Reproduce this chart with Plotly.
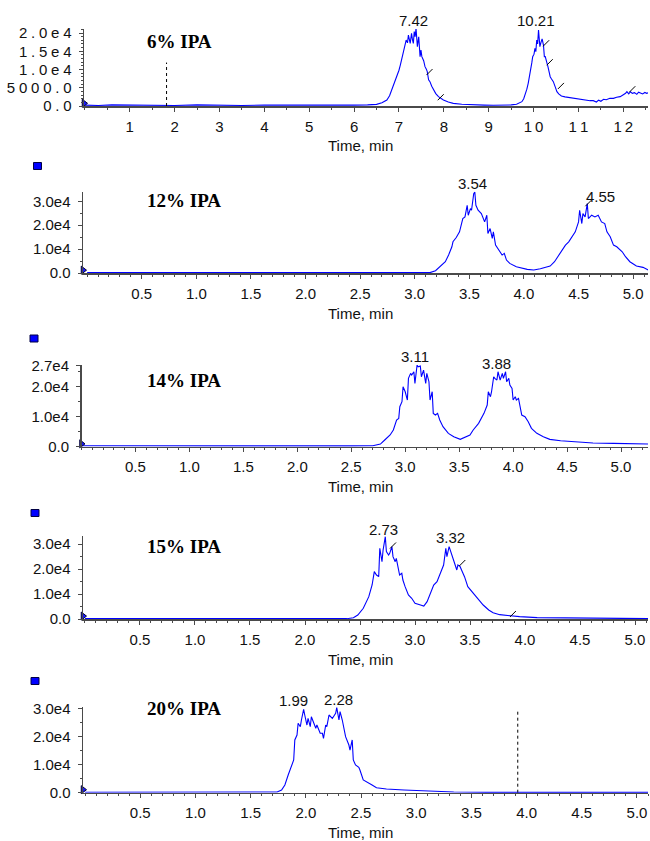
import plotly.graph_objects as go

# ---------------- data ----------------
labels = ["6% IPA", "12% IPA", "14% IPA", "15% IPA", "20% IPA"]

t6 = [0, 0.3, 0.6, 1.0, 1.5, 2.0, 2.5, 3.0, 3.5, 4.0, 4.5, 5.0, 5.5, 6.0, 6.3,
      6.50, 6.62, 6.73, 6.79, 6.84, 6.90, 6.95, 7.00, 7.03, 7.06, 7.10, 7.13, 7.16, 7.19,
      7.21, 7.25, 7.28, 7.30, 7.32, 7.34, 7.36, 7.38, 7.41, 7.44, 7.47, 7.49, 7.51, 7.55,
      7.58, 7.61, 7.63, 7.66, 7.69, 7.73, 7.77, 7.82, 7.88, 7.94, 7.99, 8.10, 8.21, 8.40,
      8.58, 8.90, 9.10, 9.33, 9.50, 9.62, 9.70, 9.74, 9.78, 9.81, 9.85, 9.88, 9.91, 9.94,
      9.96, 9.98, 10.01, 10.03, 10.05, 10.07, 10.09, 10.11, 10.14, 10.17, 10.19, 10.22,
      10.24, 10.26, 10.28, 10.30, 10.32, 10.34, 10.37, 10.40, 10.44, 10.48, 10.52, 10.56,
      10.62, 10.70, 10.80, 10.89, 11.00, 11.10, 11.19, 11.26, 11.33, 11.40, 11.45, 11.50,
      11.56, 11.62, 11.70, 11.78, 11.85, 11.93, 12.00, 12.05, 12.08, 12.12, 12.16, 12.20,
      12.25, 12.30, 12.34, 12.38, 12.43, 12.48, 12.52, 12.55]
v6 = [250, 150, 300, 200, 250, 150, 300, 200, 150, 250, 200, 300, 150, 250, 300,
      450, 900, 1640, 2800, 4380, 6200, 8030, 9800, 11230, 13000, 15340, 16500, 18080, 17300,
      19450, 17170, 19910, 18200, 17170, 20370, 18990, 21280, 16260, 18990, 13520, 15300, 13520, 12400,
      10780, 10100, 9410, 7200, 6670, 5400, 4380, 3400, 2560, 2000, 1640, 1100, 730, 500,
      350, 250, 200, 150, 300, 500, 900, 1190, 2000, 3010, 4600, 6210, 8000, 9860,
      11800, 13520, 14200, 15800, 14900, 18080, 17000, 20820, 16260, 17630, 18400, 16710,
      13520, 13520, 12200, 11690, 10800, 9410, 8030, 7400, 6670, 5300, 3930, 3300,
      2740, 2500, 2300, 2100, 1900, 1700, 1640, 1460, 1460, 1100, 1600, 1300,
      1830, 1700, 2100, 2100, 2400, 2560, 3100, 3470, 3930, 3300, 3900, 3470,
      3650, 3200, 3800, 3650, 3300, 3700, 3470, 3600]

t12 = [0, 0.5, 1.0, 1.5, 2.0, 2.5, 3.0,
       3.14, 3.19, 3.23, 3.28, 3.31, 3.34, 3.35, 3.38, 3.41, 3.44, 3.46, 3.48, 3.49, 3.51,
       3.52, 3.54, 3.55, 3.56, 3.58, 3.61, 3.64, 3.66, 3.67, 3.69, 3.71, 3.72, 3.74, 3.77,
       3.80, 3.82, 3.84, 3.87, 3.93, 4.03, 4.09, 4.15, 4.24, 4.28, 4.32, 4.35, 4.38, 4.41,
       4.44, 4.47, 4.50, 4.51, 4.53, 4.54, 4.56, 4.58, 4.59, 4.62, 4.65, 4.68, 4.71, 4.74,
       4.76, 4.79, 4.82, 4.85, 4.90, 4.93, 4.97, 5.03, 5.09, 5.14]
v12 = [150, 120, 180, 130, 160, 120, 150,
       150, 970, 2640, 4720, 7500, 10970, 13060, 14860, 17220, 22780, 23470, 28330, 24170, 26940,
       26250, 33200, 33890, 28330, 26250, 24860, 21390, 24170, 16530, 18610, 14440, 17220, 11670, 9580,
       7500, 8190, 5420, 4030, 2640, 1530, 1250, 1810, 2920, 4720, 7500, 9580, 11670, 13060,
       15140, 17220, 21390, 26250, 20690, 24860, 23470, 29030, 22780, 24170, 23470, 24170, 21390, 20690,
       17220, 15140, 11670, 10970, 8890, 6810, 4720, 2920, 2360, 1250]

t14 = [0, 0.5, 1.0, 1.5, 2.0, 2.5, 2.7,
       2.77, 2.81, 2.86, 2.89, 2.92, 2.94, 2.95, 2.97, 2.98, 3.00, 3.02, 3.03, 3.05, 3.06,
       3.08, 3.09, 3.11, 3.12, 3.14, 3.15, 3.17, 3.19, 3.20, 3.22, 3.23, 3.25, 3.26, 3.28,
       3.30, 3.32, 3.35, 3.40, 3.45, 3.51, 3.56, 3.60, 3.63, 3.68, 3.73, 3.76, 3.77, 3.79,
       3.80, 3.82, 3.83, 3.85, 3.86, 3.88, 3.90, 3.91, 3.93, 3.94, 3.96, 3.97, 3.99, 4.00,
       4.02, 4.03, 4.05, 4.06, 4.08, 4.11, 4.14, 4.17, 4.22, 4.28, 4.34, 4.44, 4.59, 4.74,
       4.93, 5.10, 5.25]
v14 = [300, 250, 320, 280, 300, 280, 320,
       890, 2230, 3900, 5570, 8900, 9450, 13330, 15000, 20000, 18330, 15560, 22780, 24450, 23900,
       25000, 21110, 27230, 26670, 26890, 23340, 25560, 21110, 24450, 21670, 15560, 18330, 11120, 10560,
       11120, 8900, 6670, 4450, 3330, 2450, 3330, 3900, 5570, 7780, 11120, 13890, 18330, 16670,
       18330, 23340, 22780, 22230, 25000, 22230, 24450, 22780, 25000, 21670, 22780, 20560, 19450, 15560,
       16670, 15560, 16120, 13890, 10560, 10000, 8330, 6120, 4450, 3330, 2450, 2000, 1560, 1230,
       1120, 900, 890]

t15 = [0, 0.5, 1.0, 1.5, 2.0, 2.3,
       2.38, 2.44, 2.48, 2.53, 2.58, 2.61, 2.63, 2.65, 2.67, 2.68, 2.70, 2.71, 2.73, 2.74,
       2.76, 2.77, 2.79, 2.80, 2.82, 2.83, 2.85, 2.86, 2.88, 2.89, 2.91, 2.94, 2.97, 3.00,
       3.05, 3.08, 3.11, 3.14, 3.17, 3.20, 3.23, 3.26, 3.28, 3.29, 3.31, 3.33, 3.34, 3.36,
       3.38, 3.39, 3.41, 3.43, 3.45, 3.48, 3.53, 3.58, 3.62, 3.67, 3.71, 3.77, 3.86, 3.95,
       4.11, 4.41, 4.71, 5.12]
v15 = [150, 120, 180, 150, 120, 150,
       130, 530, 1600, 4270, 8930, 13600, 18930, 17600, 16930, 28270, 22930, 27600, 32930, 26930,
       25600, 26270, 28930, 24930, 22930, 24270, 19600, 17600, 18270, 15600, 12930, 9600, 8270, 6270,
       5600, 5200, 6930, 10270, 13600, 14930, 18270, 21600, 28270, 24930, 28930, 26270, 25600, 22930,
       19600, 21600, 20930, 18930, 16930, 12930, 10270, 7600, 5600, 3600, 2530, 1730, 1200, 930,
       530, 400, 270, 130]

t20 = [0, 0.5, 1.0, 1.5, 1.70,
       1.74, 1.78, 1.81, 1.84, 1.87, 1.89, 1.90, 1.92, 1.93, 1.95, 1.96, 1.98, 1.99, 2.01,
       2.02, 2.04, 2.05, 2.07, 2.09, 2.10, 2.12, 2.13, 2.15, 2.16, 2.18, 2.19, 2.21, 2.24,
       2.25, 2.27, 2.28, 2.30, 2.31, 2.33, 2.36, 2.39, 2.40, 2.42, 2.43, 2.45, 2.48, 2.49,
       2.52, 2.55, 2.60, 2.64, 2.73, 2.89, 3.10, 3.34, 3.64, 5.10]
v20 = [150, 120, 150, 130, 150,
       240, 960, 2740, 6300, 9250, 11640, 18760, 20540, 24700, 23490, 25870, 29680, 27650, 24090,
       26480, 23490, 27050, 25270, 22920, 24090, 22310, 21140, 21140, 19360, 24090, 23490, 27650, 26480,
       27050, 28240, 30270, 25870, 28830, 25870, 19950, 16970, 15190, 18760, 11640, 9860, 9030, 8080,
       4520, 3930, 2740, 1790, 1310, 960, 590, 240, 120, 120]

# peak-time labels (text, x, y)
peak_text = [["7.42", "10.21"], ["3.54", "4.55"], ["3.11", "3.88"], ["2.73", "3.32"], ["1.99", "2.28"]]
peak_x = [[7.32, 10.06], [3.53, 4.70], [3.09, 3.85], [2.71, 3.32], [1.89, 2.30]]
peak_y = [[23370, 23370], [37380, 32210], [30230, 27800], [35880, 32680], [32740, 33240]]

# small integration tick marks on the traces
mark_t = [[7.68, 7.93, 10.28, 10.36, 10.61, 12.20], [4.59], [], [2.80, 3.43, 3.89], []]
mark_v = [[9300, 2400, 17200, 12000, 5500, 4600], [29200], [], [29400, 22400, 2000], []]

# dotted vertical markers (x, height); None when absent
vline_t = [1.82, None, None, None, 3.92]
vline_v = [11900, None, None, None, 29700]

# axis ticks
x_ticks = [[1, 2, 3, 4, 5, 6, 7, 8, 9, 10, 11, 12]] + [[0.5, 1.0, 1.5, 2.0, 2.5, 3.0, 3.5, 4.0, 4.5, 5.0]] * 4
y_ticks = [[0, 5000, 10000, 15000, 20000], [0, 10000, 20000, 30000], [0, 10000, 20000, 27000],
           [0, 10000, 20000, 30000], [0, 10000, 20000, 30000]]
y_ticktext = [["0.0", "5000.0", "1.0e4", "1.5e4", "2.0e4"], ["0.0", "1.0e4", "2.0e4", "3.0e4"],
              ["0.0", "1.0e4", "2.0e4", "2.7e4"], ["0.0", "1.0e4", "2.0e4", "3.0e4"],
              ["0.0", "1.0e4", "2.0e4", "3.0e4"]]

series_t = [t6, t12, t14, t15, t20]
series_v = [v6, v12, v14, v15, v20]

# ---------------- layout geometry (pixels) ----------------
W, H = 650, 841
RIGHT = 648
# left px, axis(bottom) px, top px, x-range, y max
geom = [
    (84, 106.0, 29.0, (-0.02, 12.55), 21100),
    (83, 273.0, 191.5, (-0.038, 5.136), 34100),
    (81.5, 446.7, 365.0, (0.0, 5.25), 27250),
    (83, 619.0, 536.0, (-0.018, 5.118), 33200),
    (83, 792.7, 707.0, (-0.019, 5.10), 30500),
]
title_pos = [(179, 41.7), (184.3, 200.7), (184.3, 380.7), (184.3, 546.7), (184.3, 708.3)]
square_pos = [None, (33.5, 162.5), (30, 335), (31, 509.5), (31, 677.5)]

SANS = "Liberation Sans, Arial, sans-serif"
SERIF = "Liberation Serif, Times New Roman, serif"
AX = "#4a4a4a"
SP_Y = "\u2005"
SP_X = "\u2009"

fig = go.Figure()
annotations = []
shapes = []
layout = {}

for i in range(5):
    n = "" if i == 0 else str(i + 1)
    xa, ya = "x" + n, "y" + n
    left, bottom, top, xr, ymax = geom[i]
    wide = (i == 0)

    fig.add_trace(go.Scatter(x=series_t[i], y=series_v[i], xaxis=xa, yaxis=ya, mode="lines",
                             line=dict(color="#0000ff", width=1.1), showlegend=False,
                             hoverinfo="skip"))
    if mark_t[i]:
        fig.add_trace(go.Scatter(x=mark_t[i], y=mark_v[i], xaxis=xa, yaxis=ya, mode="markers",
                                 marker=dict(symbol="line-ne", size=6,
                                             line=dict(color="black", width=1)),
                                 showlegend=False, hoverinfo="skip"))
    if vline_t[i] is not None:
        fig.add_trace(go.Scatter(x=[vline_t[i], vline_t[i]], y=[0, vline_v[i]], xaxis=xa, yaxis=ya,
                                 mode="lines", line=dict(color="black", width=1, dash="dot"),
                                 showlegend=False, hoverinfo="skip"))
    # origin triangle
    fig.add_trace(go.Scatter(x=[xr[0]], y=[ymax * 0.035], xaxis=xa, yaxis=ya, mode="markers",
                             marker=dict(symbol="triangle-right", size=7, color="#1a1aff",
                                         line=dict(color="#000033", width=1)),
                             cliponaxis=False, showlegend=False, hoverinfo="skip"))

    tickfont = dict(family=SANS, size=15, color="#111111")
    xtext = [SP_X.join(str(v)) if wide else f"{v:.1f}" for v in x_ticks[i]]
    ytext = [SP_Y.join(s) if wide else s for s in y_ticktext[i]]

    layout["xaxis" + n] = dict(
        domain=[left / W, RIGHT / W], anchor=ya, range=list(xr), automargin=False,
        showline=True, linecolor=AX, linewidth=1.5, mirror=False,
        ticks="outside", ticklen=4, tickwidth=1, tickcolor=AX,
        tickmode="array", tickvals=x_ticks[i], ticktext=xtext, tickfont=tickfont,
        ticklabelstandoff=2,
        minor=dict(ticks="outside", ticklen=2, tickcolor=AX, tickmode="linear", tick0=0,
                   dtick=0.5 if wide else 0.1, showgrid=False),
        showgrid=False, zeroline=False, fixedrange=True)
    layout["yaxis" + n] = dict(
        domain=[1 - bottom / H, 1 - top / H], anchor=xa, range=[0, ymax], automargin=False,
        showline=True, linecolor=AX, linewidth=1.5,
        ticks="outside", ticklen=4, tickwidth=1, tickcolor=AX,
        tickmode="array", tickvals=y_ticks[i], ticktext=ytext, tickfont=tickfont,
        ticklabelstandoff=4,
        minor=dict(ticks="outside", ticklen=2, tickcolor=AX, tickmode="linear", tick0=0,
                   dtick=1000 if wide else 5000, showgrid=False),
        showgrid=False, zeroline=False, fixedrange=True)

    # panel title
    tx, ty = title_pos[i]
    annotations.append(dict(text="<b>%s</b>" % labels[i], xref="paper", yref="paper",
                            x=tx / W, y=1 - ty / H, xanchor="center", yanchor="middle",
                            showarrow=False, font=dict(family=SERIF, size=19, color="black")))
    # axis title
    annotations.append(dict(text="Time, min", xref="paper", yref="paper",
                            x=360 / W, y=1 - (bottom + 40) / H, xanchor="center", yanchor="middle",
                            showarrow=False, font=dict(family=SANS, size=15, color="#111111")))
    # peak labels (y given in data units, placed relative to the axis domain so they
    # may sit above the plotted range)
    for s, px, py in zip(peak_text[i], peak_x[i], peak_y[i]):
        annotations.append(dict(text=s, xref=xa + " domain", yref=ya + " domain",
                                x=(px - xr[0]) / (xr[1] - xr[0]), y=py / ymax,
                                xanchor="center", yanchor="middle", showarrow=False,
                                font=dict(family=SANS, size=15, color="#111111")))
    # blue square legend marker
    if square_pos[i] is not None:
        sx, sy = square_pos[i]
        shapes.append(dict(type="rect", xref="paper", yref="paper",
                           x0=sx / W, x1=(sx + 8) / W, y0=1 - (sy + 7) / H, y1=1 - sy / H,
                           fillcolor="#0000ff", line=dict(color="#000044", width=1)))

fig.update_layout(width=W, height=H, margin=dict(l=0, r=0, t=0, b=0, autoexpand=False),
                  paper_bgcolor="white", plot_bgcolor="white", showlegend=False,
                  annotations=annotations, shapes=shapes, **layout)

fig.write_html("out.html", config={"displayModeBar": False, "staticPlot": True},
               post_script="document.body.style.margin='0px';")
